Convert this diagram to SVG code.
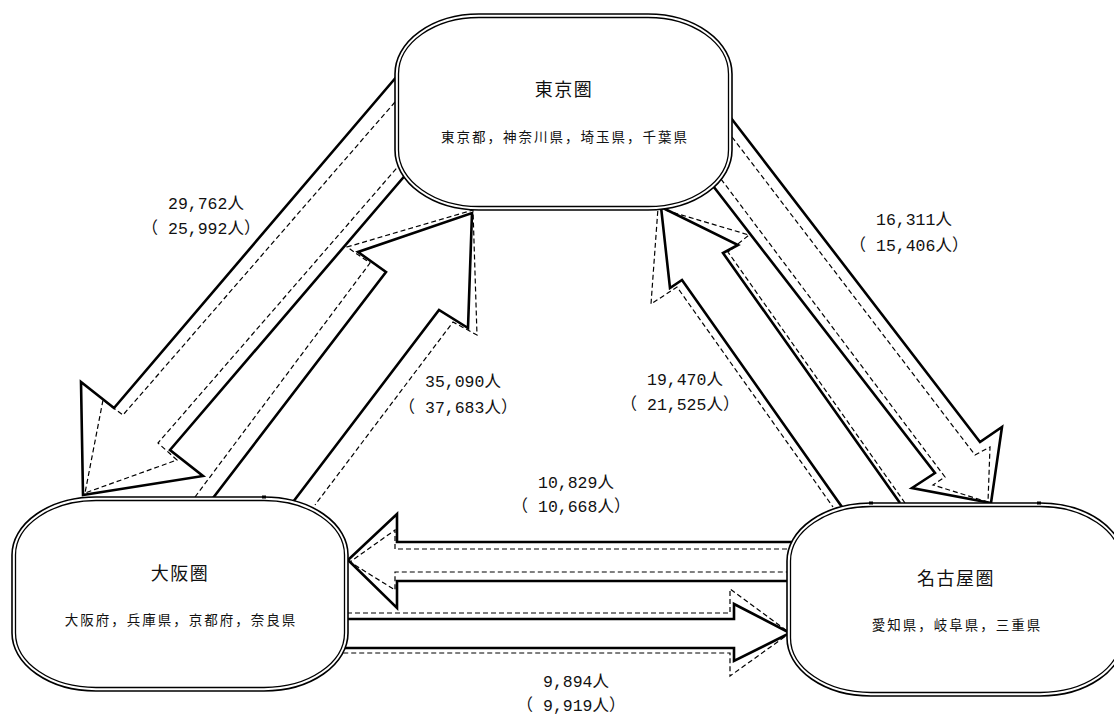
<svg xmlns="http://www.w3.org/2000/svg" width="1114" height="714" viewBox="0 0 1114 714">
<style>
.bg{fill:#fff}
.sol{fill:none;stroke:#000;stroke-width:2.6;stroke-linejoin:miter}
.dsh{fill:none;stroke:#000;stroke-width:1.2;stroke-dasharray:5 3}
.ob{fill:#fff;stroke:#000;stroke-width:1.6}
.ib{fill:none;stroke:#000;stroke-width:1.3}
.ttl{font-family:"Noto Sans CJK JP","Noto Sans CJK SC",sans-serif;font-size:18px;letter-spacing:1.5px;text-anchor:middle;fill:#111}
.sub{font-family:"Noto Sans CJK JP","Noto Sans CJK SC",sans-serif;font-size:13.5px;letter-spacing:2px;text-anchor:middle;fill:#111}
.lbl{font-family:"Liberation Mono","Noto Sans CJK JP",monospace;font-size:16.5px;fill:#111}
.dot{fill:#000}
</style>
<rect class="bg" x="0" y="0" width="1114" height="714"/>
<g id="connectors">
  <g id="tokyo-osaka">
    <polyline class="sol" points="398,75 114,408 81,382 83,495 203,476 170,450 408,172"/>
    <polyline class="dsh" points="395,102 123,415 103,400 85,493 177,460 158,443 402,162"/>
  </g>
  <g id="osaka-tokyo">
    <polyline class="sol" points="213,498 386,272 358,252 472,213 468,328 439,310 293,502"/>
    <polyline class="dsh" points="195,497 370,263 347,247 473,210 477,335 453,322 315,505"/>
  </g>
  <g id="tokyo-nagoya">
    <polyline class="sol" points="731,118 980,442 1002,427 991,503 912,488 935,473 710,182"/>
    <polyline class="dsh" points="732,137 975,455 990,447 988,502 933,485 945,477 718,175"/>
  </g>
  <g id="nagoya-tokyo">
    <polyline class="sol" points="900,503 723,253 738,245 661,207 670,288 682,280 842,507"/>
    <polyline class="dsh" points="905,503 728,252 749,235 658,208 651,304 677,287 833,507"/>
  </g>
  <g id="nagoya-osaka">
    <polyline class="sol" points="795,542 397,542 397,514 348,560 397,608 397,581 788,581"/>
    <polyline class="dsh" points="795,549 395,549 395,530 350,562 395,590 395,572 788,572"/>
  </g>
  <g id="osaka-nagoya">
    <polyline class="sol" points="347,619 734,619 734,604 790,633 734,661 734,648 345,648"/>
    <polyline class="dsh" points="347,613 730,613 730,589 790,633 730,676 730,653 343,653"/>
  </g>
  <g id="labels">
    <text class="lbl" x="168" y="209">29,762人</text>
    <text class="lbl" x="141.6" y="234">（ 25,992人）</text>
    <text class="lbl" x="425" y="387">35,090人</text>
    <text class="lbl" x="398.6" y="413">（ 37,683人）</text>
    <text class="lbl" x="876" y="225">16,311人</text>
    <text class="lbl" x="849.6" y="251">（ 15,406人）</text>
    <text class="lbl" x="647" y="385">19,470人</text>
    <text class="lbl" x="620.6" y="410">（ 21,525人）</text>
    <text class="lbl" x="538" y="488">10,829人</text>
    <text class="lbl" x="511.6" y="512">（ 10,668人）</text>
    <text class="lbl" x="543" y="687">9,894人</text>
    <text class="lbl" x="516.6" y="711">（ 9,919人）</text>
  </g>
</g>
<g id="tokyo">
  <rect class="ob" x="395" y="14" width="337" height="196" rx="84" ry="60"/>
  <rect class="ib" x="398.5" y="17.5" width="330" height="189" rx="80.5" ry="56.5"/>
  <text class="ttl" x="564" y="96">東京圏</text>
  <text class="sub" x="565" y="142">東京都，神奈川県，埼玉県，千葉県</text>
</g>
<g id="osaka">
  <rect class="ob" x="12" y="497" width="336" height="194" rx="84" ry="58"/>
  <rect class="ib" x="15.5" y="500.5" width="329" height="187" rx="80.5" ry="54.5"/>
  <rect class="dot" x="262" y="495.5" width="4" height="3"/>
  <text class="ttl" x="180" y="580">大阪圏</text>
  <text class="sub" x="181" y="625">大阪府，兵庫県，京都府，奈良県</text>
</g>
<g id="nagoya">
  <rect class="ob" x="787" y="503" width="337" height="193" rx="84" ry="58"/>
  <rect class="ib" x="790.5" y="506.5" width="330" height="186" rx="80.5" ry="54.5"/>
  <rect class="dot" x="869" y="501.5" width="4" height="3"/>
  <rect class="dot" x="1037" y="501.5" width="4" height="3"/>
  <text class="ttl" x="956" y="585">名古屋圏</text>
  <text class="sub" x="957" y="630">愛知県，岐阜県，三重県</text>
</g>
</svg>
